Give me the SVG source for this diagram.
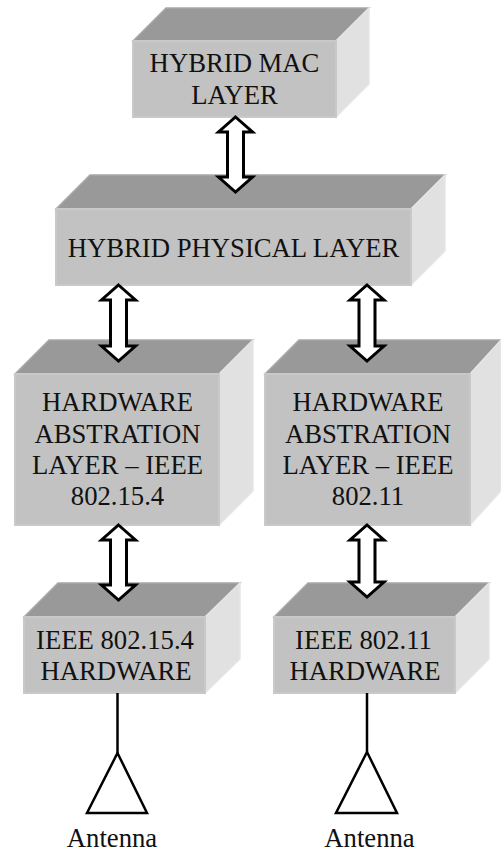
<svg xmlns="http://www.w3.org/2000/svg" width="501" height="852" viewBox="0 0 501 852">
<style>
.top{fill:#999999;stroke:#a8a8a8;stroke-width:1.5}
.side{fill:#e1e1e1;stroke:#e6e6e6;stroke-width:1.5}
.front{fill:#c2c2c2;stroke:#c9c9c9;stroke-width:2}
text{font-family:"Liberation Serif","Times New Roman",serif;font-size:26.7px;fill:#111;text-anchor:middle}
.arrow{fill:#fff;stroke:#000;stroke-width:3}
.ant{fill:#fff;stroke:#000;stroke-width:2.5}
.line{fill:none;stroke:#000;stroke-width:2.5}
</style>
<rect width="501" height="852" fill="#fff"/>
<g id="mac-layer">
<polygon class="top" points="133,41 166,8 369,8 336,41"/><polygon class="side" points="336,41 369,8 369,84 336,117"/><rect class="front" x="133" y="41" width="203" height="76"/>
<text x="234.500" y="72">HYBRID MAC</text><text x="234.500" y="104">LAYER</text>
</g>
<g id="physical-layer">
<polygon class="top" points="56,209 90,175 445,175 411,209"/><polygon class="side" points="411,209 445,175 445,251 411,285"/><rect class="front" x="56" y="209" width="355" height="76"/>
<text x="233.500" y="257">HYBRID PHYSICAL LAYER</text>
</g>
<g id="hal-802154">
<polygon class="top" points="15,374 49,340 253,340 219,374"/><polygon class="side" points="219,374 253,340 253,491 219,525"/><rect class="front" x="15" y="374" width="204" height="151"/>
<text x="117.500" y="411">HARDWARE</text><text x="117.500" y="443">ABSTRATION</text><text x="117.500" y="474">LAYER – IEEE</text><text x="117.500" y="505">802.15.4</text>
</g>
<g id="hal-80211">
<polygon class="top" points="265,374 299,340 501,340 470,374"/><polygon class="side" points="470,374 501,340 501,491 470,525"/><rect class="front" x="265" y="374" width="205" height="151"/>
<text x="368" y="411">HARDWARE</text><text x="368" y="443">ABSTRATION</text><text x="368" y="474">LAYER – IEEE</text><text x="368" y="505">802.11</text>
</g>
<g id="hw-802154">
<polygon class="top" points="24,617 58,583 240,583 205,617"/><polygon class="side" points="205,617 240,583 240,659 205,693"/><rect class="front" x="24" y="617" width="181" height="76"/>
<text x="115" y="649">IEEE 802.15.4</text><text x="116" y="680">HARDWARE</text>
</g>
<g id="hw-80211">
<polygon class="top" points="274,617 308,583 489,583 455,617"/><polygon class="side" points="455,617 489,583 489,659 455,693"/><rect class="front" x="274" y="617" width="181" height="76"/>
<text x="363.500" y="649">IEEE 802.11</text><text x="365" y="680">HARDWARE</text>
</g>
<g id="connectors">
<polygon class="arrow" points="235.500,117 252.500,132 243.500,132 243.500,177 252.500,177 235.500,192 218.500,177 227.500,177 227.500,132 218.500,132"/>
<polygon class="arrow" points="118.500,285 135.500,300 126.500,300 126.500,346 135.500,346 118.500,361 101.500,346 110.500,346 110.500,300 101.500,300"/>
<polygon class="arrow" points="367,285 384,300 375,300 375,346 384,346 367,361 350,346 359,346 359,300 350,300"/>
<polygon class="arrow" points="118.500,525 135.500,540 126.500,540 126.500,585 135.500,585 118.500,600 101.500,585 110.500,585 110.500,540 101.500,540"/>
<polygon class="arrow" points="367,525 384,540 375,540 375,582 384,582 367,597 350,582 359,582 359,540 350,540"/>
<line class="line" x1="117.500" y1="693" x2="117.500" y2="753"/>
<line class="line" x1="367" y1="693" x2="367" y2="752"/>
</g>
<g id="antenna-left"><polygon class="ant" points="117.500,753 147,813 87,813"/><text x="112" y="847">Antenna</text></g>
<g id="antenna-right"><polygon class="ant" points="367,752 397,813 336,813"/><text x="369.500" y="847">Antenna</text></g>
</svg>
